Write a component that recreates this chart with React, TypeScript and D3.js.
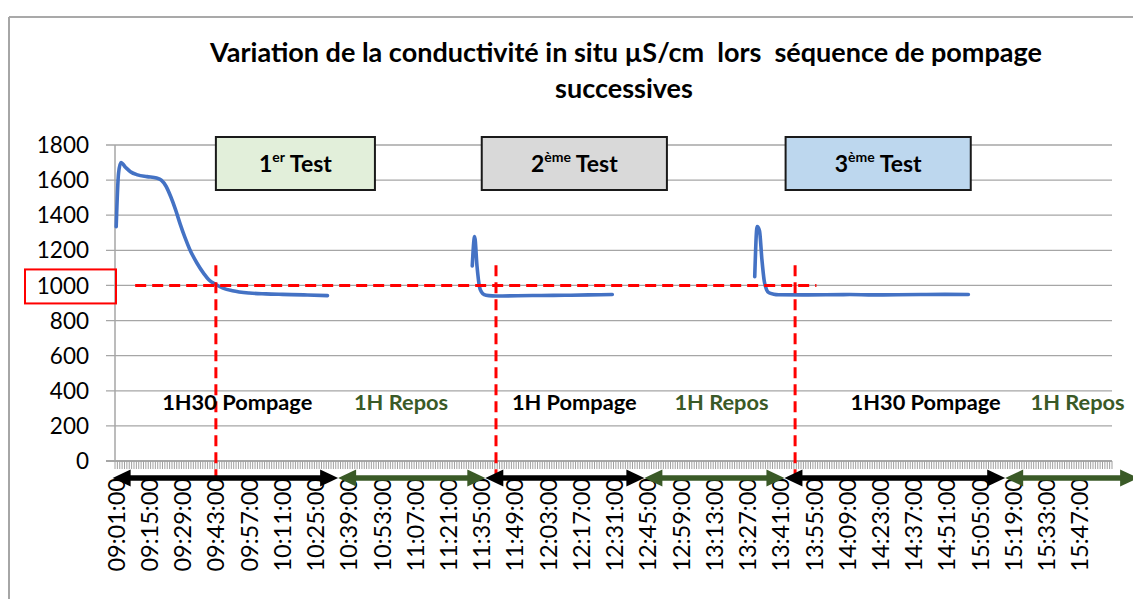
import React from 'react';
import * as d3 from 'd3';

const W = 1133;
const H = 599;
const plotLeft = 115;
const plotRight = 1112;
const plotTop = 145;
const plotBottom = 461;

const titleLines = ['Variation de la conductivité in situ µS/cm  lors  séquence de pompage', 'successives'];

const firstMinute = '09:01';
const lastMinute = '16:00';

const tickLabels = [
  '09:01:00', '09:15:00', '09:29:00', '09:43:00', '09:57:00', '10:11:00', '10:25:00', '10:39:00',
  '10:53:00', '11:07:00', '11:21:00', '11:35:00', '11:49:00', '12:03:00', '12:17:00', '12:31:00',
  '12:45:00', '12:59:00', '13:13:00', '13:27:00', '13:41:00', '13:55:00', '14:09:00', '14:23:00',
  '14:37:00', '14:51:00', '15:05:00', '15:19:00', '15:33:00', '15:47:00',
];

const yTicks = [0, 200, 400, 600, 800, 1000, 1200, 1400, 1600, 1800];

const test1Times = ['09:01', '09:02', '09:03', '09:05', '09:07', '09:10', '09:14', '09:18', '09:20', '09:22', '09:24', '09:26', '09:28', '09:30', '09:32', '09:35', '09:38', '09:40', '09:43', '09:46', '09:50', '09:57', '10:04', '10:11', '10:20', '10:30'];
const test1Values = [1335, 1640, 1700, 1672, 1648, 1630, 1620, 1612, 1600, 1565, 1505, 1432, 1348, 1272, 1205, 1128, 1066, 1032, 1005, 985, 970, 957, 952, 949, 946, 942];

const test2Times = ['11:31', '11:32', '11:33', '11:34', '11:35', '11:36', '11:38', '11:41', '11:50', '12:00', '12:10', '12:20', '12:30'];
const test2Values = [1111, 1278, 1110, 995, 960, 948, 942, 940, 941, 943, 944, 946, 948];

const test3Times = ['13:30', '13:31', '13:32', '13:33', '13:34', '13:35', '13:36', '13:38', '13:40', '13:50', '14:00', '14:10', '14:20', '14:30', '14:40', '14:50', '15:00'];
const test3Values = [1050, 1335, 1312, 1150, 1025, 975, 958, 950, 947, 946, 947, 948, 946, 947, 948, 949, 948];

const refValue = 1000;
const refStart = '09:09';
const refEnd = '13:56';
const markerTimes = ['09:43', '11:41', '13:47'];
const markerTopValue = 1115;

const testBoxes = [
  { num: '1', sup: 'er', start: '09:43', end: '10:50', fill: '#E2EFDA' },
  { num: '2', sup: 'ème', start: '11:35', end: '12:53', fill: '#D9D9D9' },
  { num: '3', sup: 'ème', start: '13:43', end: '15:01', fill: '#BDD7EE' },
];

const phaseLabels = ['1H30 Pompage', '1H Repos', '1H Pompage', '1H Repos', '1H30 Pompage', '1H Repos'];
const phaseCenters = ['09:52', '11:01', '12:14', '13:16', '14:42', '15:46'];
const phaseKinds = ['pump', 'rest', 'pump', 'rest', 'pump', 'rest'];
const phaseBounds = ['09:00', '10:35', '11:37', '12:44', '13:43', '15:16', '16:12'];

const GREEN = '#3A5A27';
const BLUE = '#4472C4';
const RED = '#FF0000';
const GRID = '#A6A6A6';
const FONT = 'Lato, "Open Sans", sans-serif';

function toMin(t: string) {
  const [h, m] = t.split(':').map(Number);
  return h * 60 + m;
}

const startMin = toMin(firstMinute);
const nCat = toMin(lastMinute) - startMin + 1;
const categories = d3.range(nCat);

export default function App() {
  const xBand = d3.scaleBand<number>().domain(categories).range([plotLeft, plotRight]).padding(0);
  const bw = xBand.bandwidth();
  const xt = (t: string) => (xBand(toMin(t) - startMin) ?? 0) + bw / 2;
  const xLin = d3.scaleLinear().domain([startMin, startMin + nCat]).range([plotLeft, plotRight]);
  const y = d3.scaleLinear().domain([0, 1800]).range([plotBottom, plotTop]);

  const line = d3
    .line<[string, number]>()
    .x((d) => xt(d[0]))
    .y((d) => y(d[1]))
    .curve(d3.curveMonotoneX);

  const series = [
    d3.zip(test1Times, test1Values) as [string, number][],
    d3.zip(test2Times, test2Values) as [string, number][],
    d3.zip(test3Times, test3Values) as [string, number][],
  ];

  const arrowY = 478;
  const head = 18;
  const headH = 8.5;

  return (
    <svg width={W} height={H} style={{ position: 'absolute', left: 0, top: 0, background: '#fff' }} fontFamily={FONT}>
      <rect x={0} y={0} width={W} height={H} fill="#fff" />
      {/* chart border */}
      <line x1={9} y1={17} x2={W} y2={17} stroke="#8C8C8C" strokeWidth={1.5} />
      <line x1={9} y1={17} x2={9} y2={H} stroke="#A6A6A6" strokeWidth={2} />

      {/* title */}
      <text x={626} y={62} textAnchor="middle" fontSize={27} fontWeight="bold" style={{ whiteSpace: 'pre' }}>{titleLines[0]}</text>
      <text x={624} y={98} textAnchor="middle" fontSize={27} fontWeight="bold">{titleLines[1]}</text>

      {/* gridlines */}
      {yTicks.map((v) => (
        <g key={v}>
          <line x1={plotLeft - 9} x2={plotRight} y1={y(v)} y2={y(v)} stroke={GRID} strokeWidth={v === 0 ? 2 : 1.3} />
          <text x={89} y={y(v)} dy="0.36em" textAnchor="end" fontSize={22.5}>{v}</text>
        </g>
      ))}
      <line x1={plotLeft} x2={plotLeft} y1={plotTop} y2={plotBottom} stroke={GRID} strokeWidth={1.5} />

      {/* category ticks */}
      {d3.range(nCat + 1).map((i) => (
        <line key={i} x1={xLin(startMin + i)} x2={xLin(startMin + i)} y1={plotBottom} y2={plotBottom + 8} stroke="#A0A0A0" strokeWidth={1} />
      ))}

      {/* red box around 1000 */}
      <rect x={25} y={y(refValue) - 16} width={91} height={34} fill="none" stroke={RED} strokeWidth={2} />

      {/* data */}
      {series.map((s, i) => (
        <path key={i} d={line(s) ?? ''} fill="none" stroke={BLUE} strokeWidth={3.6} strokeLinecap="round" strokeLinejoin="round" />
      ))}

      {/* reference dashed lines */}
      <line x1={xt(refStart)} x2={xt(refEnd)} y1={y(refValue)} y2={y(refValue)} stroke={RED} strokeWidth={3} strokeDasharray="11,6" />
      {markerTimes.map((t) => (
        <line key={t} x1={xt(t)} x2={xt(t)} y1={y(markerTopValue)} y2={plotBottom + 18} stroke={RED} strokeWidth={3} strokeDasharray="11,6" />
      ))}

      {/* x tick labels */}
      {tickLabels.map((lab) => {
        const xx = xt(lab.slice(0, 5));
        return (
          <text key={lab} transform={`translate(${xx},${plotBottom + 17}) rotate(-90)`} textAnchor="end" dy="0.36em" fontSize={23.5}>
            {lab}
          </text>
        );
      })}

      {/* phase labels */}
      {phaseLabels.map((lab, i) => (
        <text key={i} x={xt(phaseCenters[i])} y={410} textAnchor="middle" fontSize={21.8} fontWeight="bold" fill={phaseKinds[i] === 'pump' ? '#000' : GREEN}>
          {lab}
        </text>
      ))}

      {/* arrows */}
      {phaseKinds.map((k, i) => {
        const x1 = xLin(toMin(phaseBounds[i]));
        const x2 = xLin(toMin(phaseBounds[i + 1]));
        const c = k === 'pump' ? '#000' : GREEN;
        return (
          <g key={i}>
            <line x1={x1 + head - 2} x2={x2 - head + 2} y1={arrowY} y2={arrowY} stroke={c} strokeWidth={5.5} />
            <path d={`M${x1},${arrowY} L${x1 + head},${arrowY - headH} L${x1 + head},${arrowY + headH} Z`} fill={c} />
            <path d={`M${x2},${arrowY} L${x2 - head},${arrowY - headH} L${x2 - head},${arrowY + headH} Z`} fill={c} />
          </g>
        );
      })}

      {/* test boxes */}
      {testBoxes.map((b) => {
        const x1 = xt(b.start);
        const x2 = xt(b.end);
        return (
          <g key={b.num}>
            <rect x={x1} y={137} width={x2 - x1} height={53} fill={b.fill} stroke="#1a1a1a" strokeWidth={2} />
            <text x={(x1 + x2) / 2} y={172} textAnchor="middle" fontSize={23} fontWeight="bold">
              <tspan>{b.num}</tspan>
              <tspan dy={-10} fontSize={14}>{b.sup}</tspan>
              <tspan dy={10}> Test</tspan>
            </text>
          </g>
        );
      })}
    </svg>
  );
}
